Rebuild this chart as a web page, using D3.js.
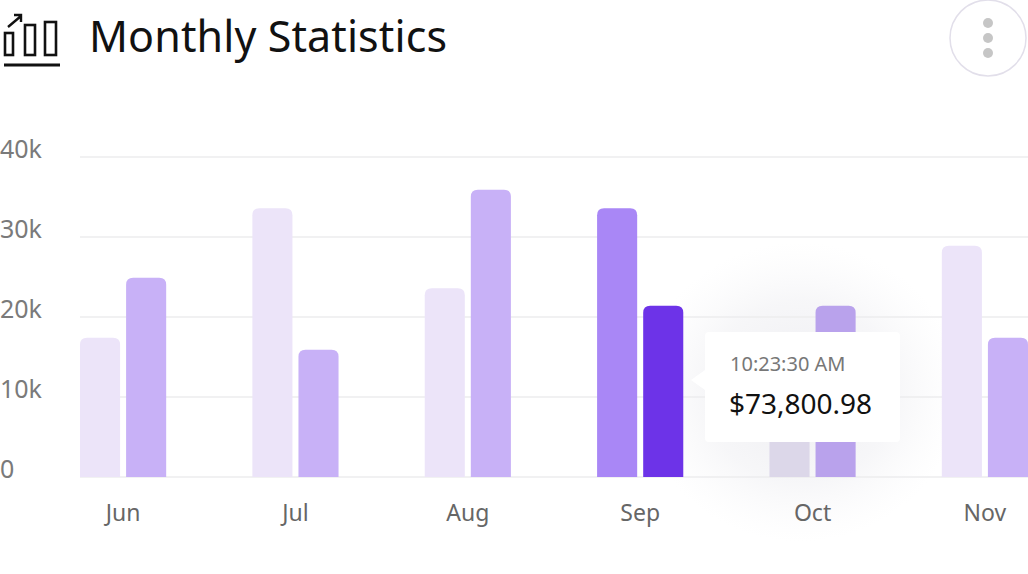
<!DOCTYPE html>
<html>
<head>
<meta charset="utf-8">
<script src="https://cdn.jsdelivr.net/npm/d3@7"></script>
<style>
  body { margin: 0; background: #fff; }
  svg { display: block; font-family: "Noto Sans", "Open Sans", sans-serif; }
</style>
</head>
<body>
<div id="chart"></div>
<script>
// chart data
var months = ["Jun", "Jul", "Aug", "Sep", "Oct", "Nov"];
var seriesA = [17400, 33600, 23600, 33600, 15000, 28900];
var seriesB = [24900, 15900, 35900, 21400, 21400, 17400];
var yTicks = [0, 10000, 20000, 30000, 40000];
var yTickLabels = ["0", "10k", "20k", "30k", "40k"];
var tipTime = "10:23:30 AM";
var tipValue = "$73,800.98";

var svgWidth = 1028;
var svgHeight = 574;

var svg = d3.select("#chart")
  .append("svg")
  .attr("width", svgWidth)
  .attr("height", svgHeight);

var defs = svg.append("defs");
var glow = defs.append("radialGradient").attr("id", "glow");
glow.append("stop").attr("offset", "0%").attr("stop-color", "#e4e4ea").attr("stop-opacity", 0.7);
glow.append("stop").attr("offset", "60%").attr("stop-color", "#ececf0").attr("stop-opacity", 0.45);
glow.append("stop").attr("offset", "100%").attr("stop-color", "#f4f4f6").attr("stop-opacity", 0);

// header icon
var icon = svg.append("g").attr("fill", "none").attr("stroke", "#111").attr("stroke-width", 2.6);
icon.append("rect").attr("x", 5).attr("y", 33).attr("width", 8).attr("height", 22);
icon.append("rect").attr("x", 25).attr("y", 25).attr("width", 10).attr("height", 30);
icon.append("rect").attr("x", 45).attr("y", 22).attr("width", 11).attr("height", 33);
icon.append("line").attr("x1", 4).attr("x2", 60).attr("y1", 65).attr("y2", 65).attr("stroke-width", 3.2);
icon.append("path").attr("d", "M8,27 L21,16 M14,15 L21,15 L21,22").attr("stroke-width", 2.4);

svg.append("text")
  .attr("x", 89)
  .attr("y", 52)
  .attr("font-size", 43)
  .attr("fill", "#111")
  .attr("textLength", 358)
  .text("Monthly Statistics");

// kebab button
svg.append("circle")
  .attr("cx", 988).attr("cy", 38).attr("r", 38)
  .attr("fill", "#fff").attr("stroke", "#e2dfea").attr("stroke-width", 1.5);
svg.selectAll(".dot")
  .data([-15, 0, 15])
  .enter()
  .append("circle")
  .attr("cx", 988)
  .attr("cy", d => 38 + d)
  .attr("r", 5)
  .attr("fill", "#c6c6c6");

// scales
var x0 = d3.scaleBand()
  .domain(months)
  .range([80, 1028])
  .paddingInner(0.5)
  .paddingOuter(0);

var x1 = d3.scaleBand()
  .domain([0, 1])
  .range([0, x0.bandwidth()])
  .paddingInner(6 / 46);

var y = d3.scaleLinear()
  .domain([0, 40000])
  .range([477, 157]);

// soft shadow behind the tooltip
svg.append("ellipse")
  .attr("cx", 800).attr("cy", 392)
  .attr("rx", 160).attr("ry", 150)
  .attr("fill", "url(#glow)");

// gridlines
svg.selectAll(".grid")
  .data(yTicks)
  .enter()
  .append("line")
  .attr("x1", 80)
  .attr("x2", 1028)
  .attr("y1", d => y(d))
  .attr("y2", d => y(d))
  .attr("stroke", "#ececee")
  .attr("stroke-width", 1.5);

svg.selectAll(".ylab")
  .data(yTicks)
  .enter()
  .append("text")
  .attr("x", 0)
  .attr("y", d => y(d) + 1)
  .attr("font-size", 25)
  .attr("fill", "#7a7a7a")
  .text((d, i) => yTickLabels[i]);

// bars, rounded at the top
function barPath(x, top, w, bottom, r) {
  r = Math.min(r, (bottom - top) / 2);
  return "M" + x + "," + bottom +
    "V" + (top + r) +
    "Q" + x + "," + top + " " + (x + r) + "," + top +
    "H" + (x + w - r) +
    "Q" + (x + w) + "," + top + " " + (x + w) + "," + (top + r) +
    "V" + bottom + "Z";
}

var colorsA = ["#ece4f9", "#ece4f9", "#ece4f9", "#a987f6", "#dcd7e9", "#ece4f9"];
var colorsB = ["#c8b1f7", "#c8b1f7", "#c8b1f7", "#6d33e8", "#b9a2ec", "#c8b1f7"];

var bars = [];
months.forEach(function(m, i) {
  bars.push({ month: m, k: 0, value: seriesA[i], color: colorsA[i] });
  bars.push({ month: m, k: 1, value: seriesB[i], color: colorsB[i] });
});

svg.selectAll(".bar")
  .data(bars)
  .enter()
  .append("path")
  .attr("d", d => barPath(x0(d.month) + x1(d.k), y(d.value), x1.bandwidth(), y(0), 7))
  .attr("fill", d => d.color);

svg.selectAll(".xlab")
  .data(months)
  .enter()
  .append("text")
  .attr("x", d => x0(d) + x0.bandwidth() / 2)
  .attr("y", 521)
  .attr("text-anchor", "middle")
  .attr("font-size", 23)
  .attr("fill", "#666")
  .text(d => d);

// tooltip
var tip = svg.append("g").attr("transform", "translate(705,332)");
tip.append("path")
  .attr("d", "M4,0 H191 Q195,0 195,4 V106 Q195,110 191,110 H4 Q0,110 0,106 V58 L-14,48 L0,38 V4 Q0,0 4,0 Z")
  .attr("fill", "#fff");
tip.append("text")
  .attr("x", 25).attr("y", 39)
  .attr("font-size", 20)
  .attr("fill", "#777")
  .text(tipTime);
tip.append("text")
  .attr("x", 24).attr("y", 82)
  .attr("font-size", 28)
  .attr("fill", "#111")
  .text(tipValue);
</script>
</body>
</html>
